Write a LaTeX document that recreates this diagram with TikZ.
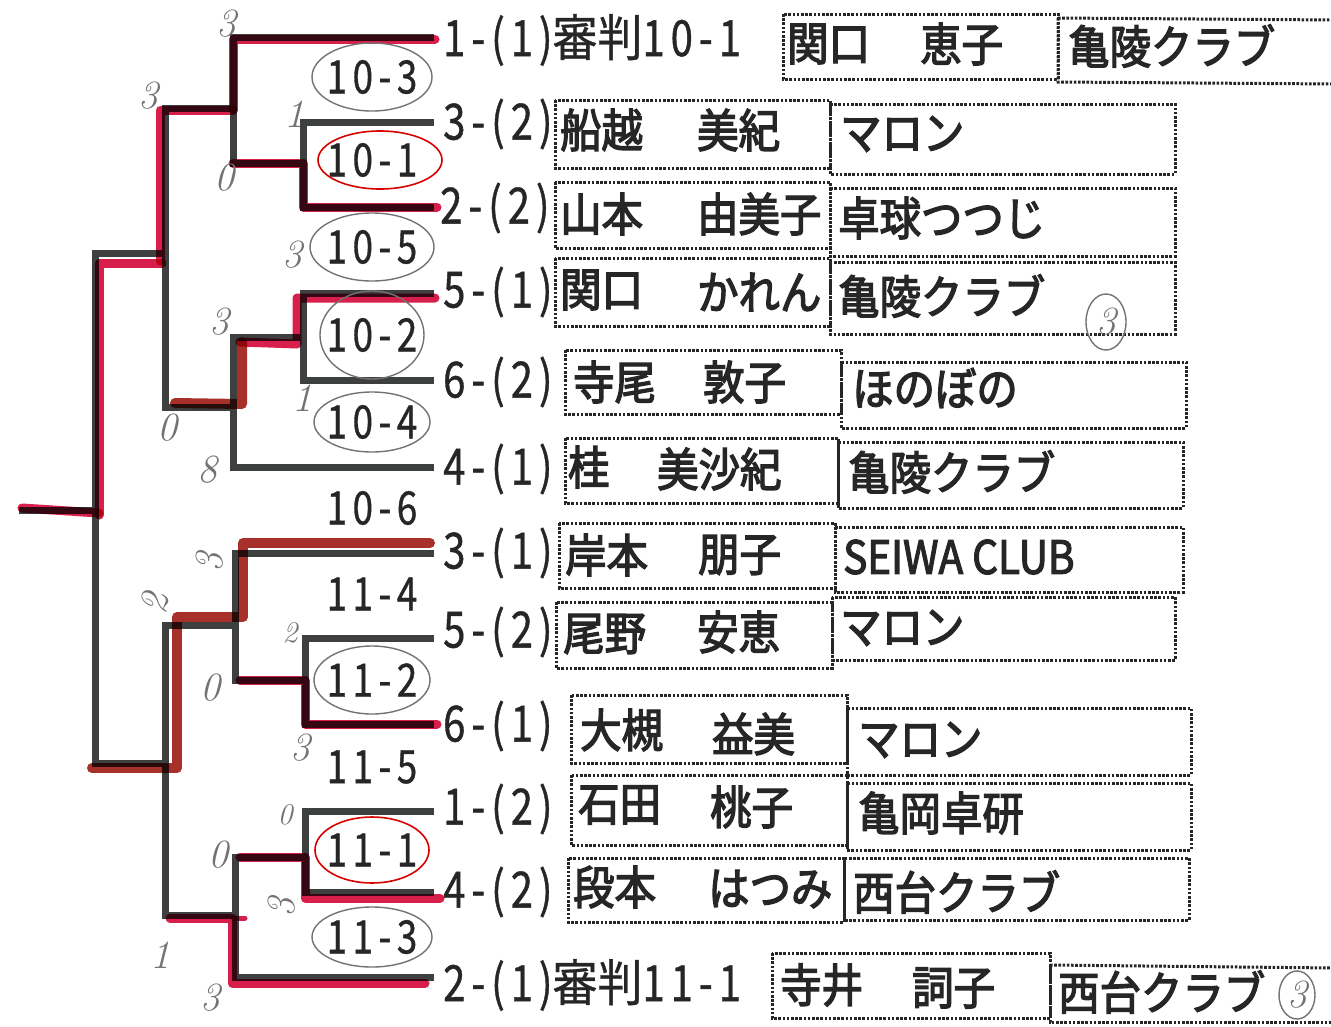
\documentclass[tikz,border=0pt]{standalone}
\usepackage{fontspec}
\newfontfamily\numf[FakeStretch=0.8,LetterSpace=12,FakeBold=0.8]{Noto Sans CJK JP}
\newfontfamily\latf[FakeStretch=0.88,FakeBold=2.4]{Noto Sans CJK JP}
\newfontfamily\jpf[FakeStretch=0.9,FakeBold=2.8]{Noto Sans CJK JP}
\newfontfamily\jpr[FakeStretch=0.9,FakeBold=0.6]{Noto Sans CJK JP}
\definecolor{brk}{HTML}{3E4040}
\definecolor{mark}{HTML}{D81E4A}
\definecolor{markd}{HTML}{A8302A}
\definecolor{ink}{HTML}{262626}
\tikzset{
  br/.style={draw=brk,line width=7pt,line join=miter,line cap=rect},
  win/.style={draw=mark,line width=9pt,line cap=round,line join=round},
  wind/.style={draw=markd,line width=10pt,line cap=round,line join=round},
  dbox/.style={draw=ink,line width=3pt,dash pattern=on 2.6pt off 1.6pt},
  lab/.style={anchor=west,inner sep=0pt,text=ink,font=\numf\fontsize{50}{50}\selectfont},
  nm/.style={anchor=west,inner sep=0pt,text=ink,font=\jpf\fontsize{46}{46}\selectfont},
  mt/.style={inner sep=0pt,text=ink,font=\numf\fontsize{46}{46}\selectfont},
  hw/.style={inner sep=0pt,text=black!55,font=\itshape\fontsize{40}{40}\selectfont},
  ov/.style={draw=black!55,line width=1.4pt},
  ovr/.style={draw=red!85!black,line width=1.6pt}
}
\begin{document}
\begin{tikzpicture}[x=1pt,y=-1pt]
\useasboundingbox (0,0) rectangle (1331,1026);
\fill[white] (0,0) rectangle (1331,1026);

% ---------- bracket coordinates ----------
\coordinate (L1) at (430,37);
\coordinate (L2) at (430,122);
\coordinate (L3) at (430,207);
\coordinate (L4) at (430,293);
\coordinate (L5) at (430,380);
\coordinate (L6) at (430,467);
\coordinate (L7) at (430,553);
\coordinate (L8) at (430,638);
\coordinate (L9) at (430,724);
\coordinate (L10) at (430,811);
\coordinate (L11) at (430,892);
\coordinate (L12) at (430,977);
\coordinate (m23) at (303,163);
\coordinate (m1) at (233,108);
\coordinate (m45) at (303,337);
\coordinate (m6) at (233,407);
\coordinate (mT) at (165,253);
\coordinate (m89) at (305,680);
\coordinate (m7) at (235,625);
\coordinate (m1011) at (305,857);
\coordinate (m12) at (235,915);
\coordinate (mB) at (165,763);
\coordinate (mF) at (95,510);
\coordinate (st) at (22,510);

% ---------- bracket ----------
\draw[br] (L2) -| (m23) |- (L3);
\draw[br] (L1) -| (m1) |- (m23);
\draw[br] (L4) -| (m45) |- (L5);
\draw[br] (m45) -| (m6) |- (L6);
\draw[br] (m1) -| (mT) |- (m6);
\draw[br] (L8) -| (m89) |- (L9);
\draw[br] (L7) -| (m7) |- (m89);
\draw[br] (L10) -| (m1011) |- (L11);
\draw[br] (m1011) -| (m12) |- (L12);
\draw[br] (m7) -| (mB) |- (m12);
\draw[br] (mT) -| (mF) |- (mB);
\draw[br] (mF) -- (st);

% ---------- winner marks ----------
\begin{scope}[blend mode=multiply]
  \draw[win] ([xshift=5pt,yshift=-2pt]L1) -| ([yshift=-2pt]m1);
  \draw[win] ([yshift=-2pt]m1) -| ([xshift=-5pt,yshift=-8pt]mT);
  \draw[win] ([xshift=-3pt,yshift=-10pt]mT) -| ([xshift=4pt,yshift=-5pt]mF);
  \draw[win] ([xshift=4pt,yshift=-3pt]mF) -- ([yshift=2pt]st);
  \draw[win] ([xshift=7pt]L3) -| (m23) -- (m1 |- m23);
  \draw[win] ([xshift=5pt,yshift=-5pt]L4) -| ([xshift=-6pt,yshift=-7pt]m45) -- ([xshift=7pt,yshift=-5pt]m6 |- m45);
  \draw[wind] ([xshift=9pt,yshift=-5pt]m6 |- m45) -- ([xshift=9pt,yshift=3pt]m6) -- ([xshift=10pt,yshift=4pt]mT |- m6);
  \draw[wind] ([yshift=10pt]L7) -| ([xshift=8pt,yshift=8pt]m7) -| ([xshift=12pt,yshift=-5pt]mB) -- ([xshift=-3pt,yshift=-5pt]mF |- mB);
  \draw[win] ([xshift=7pt]L9) -| (m89) -- ([xshift=5pt]m7 |- m89);
  \draw[win] ([xshift=10pt,yshift=-6pt]L11) -| (m1011) -- ([xshift=5pt]m12 |- m1011);
  \draw[win] ([xshift=-5pt,yshift=-6pt]L12) -| ([xshift=-3pt,yshift=-3pt]m12) -- ([xshift=5pt,yshift=-3pt]mB |- m12);
  \draw[win,line width=5pt] ([xshift=10pt,yshift=-3pt]m12) -- ([xshift=-2pt,yshift=-3pt]m12);
\end{scope}

% ---------- match labels ----------
\node[mt] (t103) at (372,77) {10-3};
\node[mt] (t101) at (372,160) {10-1};
\node[mt] (t105) at (372,247) {10-5};
\node[mt] (t102) at (372,335) {10-2};
\node[mt] (t104) at (372,422) {10-4};
\node[mt] (t106) at (372,508) {10-6};
\node[mt] (t114) at (372,594) {11-4};
\node[mt] (t112) at (372,680) {11-2};
\node[mt] (t115) at (372,767) {11-5};
\node[mt] (t111) at (372,850) {11-1};
\node[mt] (t113) at (372,937) {11-3};
\draw[ov] (t103.center) ellipse [x radius=60,y radius=34];
\draw[ovr] ([xshift=8pt]t101.center) ellipse [x radius=62,y radius=29];
\draw[ov] (t105.center) ellipse [x radius=62,y radius=34];
\draw[ov] (t102.center) ellipse [x radius=52,y radius=44];
\draw[ov] (t104.center) ellipse [x radius=58,y radius=30];
\draw[ov] (t112.center) ellipse [x radius=58,y radius=34];
\draw[ovr] (t111.center) ellipse [x radius=57,y radius=33];
\draw[ov] (t113.center) ellipse [x radius=60,y radius=30];

% ---------- handwritten scores ----------
\node[hw] (s1) at (226,24) {3};
\node[hw] (s2) at (148,96) {3};
\node[hw] (s3) at (294,114) {1};
\node[hw] (s4) at (224,178) {0};
\node[hw] (s5) at (292,255) {3};
\node[hw] (s6) at (219,322) {3};
\node[hw] (s7) at (302,398) {1};
\node[hw] (s8) at (167,428) {0};
\node[hw] (s9) at (207,470) {8};
\node[hw,rotate=90] (s10) at (210,562) {3};
\node[hw,rotate=80] (s11) at (155,603) {2};
\node[hw,font=\itshape\fontsize{30}{30}\selectfont] (s12) at (290,633) {2};
\node[hw] (s13) at (210,688) {0};
\node[hw] (s14) at (300,748) {3};
\node[hw,font=\itshape\fontsize{30}{30}\selectfont] (s15) at (285,815) {0};
\node[hw] (s16) at (218,855) {0};
\node[hw,rotate=90] (s17) at (282,907) {3};
\node[hw] (s18) at (160,955) {1};
\node[hw] (s19) at (210,998) {3};

% ---------- entry boxes ----------
\draw[dbox] (783,14) rectangle (1058,79);
\draw[dbox] (1058,18) -- (1058,82) -- (1335,84);
\draw[dbox] (1058,18) -- (1335,20);
\draw[dbox] (555,100) rectangle (830,168);
\draw[dbox] (830,104) rectangle (1175,174);
\draw[dbox] (555,182) rectangle (830,248);
\draw[dbox] (830,188) rectangle (1175,256);
\draw[dbox] (555,258) rectangle (830,326);
\draw[dbox] (830,262) rectangle (1175,334);
\draw[dbox] (565,350) rectangle (841,414);
\draw[dbox] (841,362) rectangle (1186,428);
\draw[dbox] (565,438) rectangle (838,503);
\draw[dbox] (838,442) rectangle (1183,508);
\draw[dbox] (559,523) rectangle (835,588);
\draw[dbox] (835,527) rectangle (1183,592);
\draw[dbox] (556,602) rectangle (832,668);
\draw[dbox] (832,597) rectangle (1175,660);
\draw[dbox] (571,695) rectangle (847,763);
\draw[dbox] (847,708) rectangle (1191,775);
\draw[dbox] (571,775) rectangle (847,845);
\draw[dbox] (847,783) rectangle (1191,850);
\draw[dbox] (568,858) rectangle (844,922);
\draw[dbox] (844,858) rectangle (1189,920);
\draw[dbox] (772,953) rectangle (1050,1018);
\draw[dbox] (1050,965) -- (1050,1022) -- (1335,1022);
\draw[dbox] (1050,965) -- (1335,968);

% ---------- entry texts ----------
\node[lab] (a1) at (443,40) {1-(1){\jpr 審判}10-1};
\node[nm] (f1) at (787,44) {関口};
\node[nm] (g1) at (920,44) {恵子};
\node[nm] (c1) at (1068,46) {亀陵クラブ};

\node[lab] (a2) at (443,124) {3-(2)};
\node[nm] (f2) at (560,130) {船越};
\node[nm] (g2) at (697,130) {美紀};
\node[nm] (c2) at (840,134) {マロン};

\node[lab] (a3) at (440,208) {2-(2)};
\node[nm] (f3) at (560,214) {山本};
\node[nm] (g3) at (697,214) {由美子};
\node[nm] (c3) at (838,218) {卓球つつじ};

\node[lab] (a4) at (443,292) {5-(1)};
\node[nm] (f4) at (560,290) {関口};
\node[nm] (g4) at (697,292) {かれん};
\node[nm] (c4) at (838,296) {亀陵クラブ};

\node[lab] (a5) at (443,382) {6-(2)};
\node[nm] (f5) at (573,382) {寺尾};
\node[nm] (g5) at (703,382) {敦子};
\node[nm] (c5) at (852,388) {ほのぼの};

\node[lab] (a6) at (443,469) {4-(1)};
\node[nm] (f6) at (568,467) {桂};
\node[nm] (g6) at (657,469) {美沙紀};
\node[nm] (c6) at (848,472) {亀陵クラブ};

\node[lab] (a7) at (443,553) {3-(1)};
\node[nm] (f7) at (565,555) {岸本};
\node[nm] (g7) at (698,555) {朋子};
\node[nm,font=\latf\fontsize{46}{46}\selectfont] (c7) at (843,557) {SEIWA CLUB};

\node[lab] (a8) at (443,632) {5-(2)};
\node[nm] (f8) at (563,634) {尾野};
\node[nm] (g8) at (697,632) {安恵};
\node[nm] (c8) at (840,628) {マロン};

\node[lab] (a9) at (443,726) {6-(1)};
\node[nm] (f9) at (580,730) {大槻};
\node[nm] (g9) at (712,734) {益美};
\node[nm] (c9) at (858,740) {マロン};

\node[lab] (a10) at (443,809) {1-(2)};
\node[nm] (f10) at (578,805) {石田};
\node[nm] (g10) at (710,807) {桃子};
\node[nm] (c10) at (858,813) {亀岡卓研};

\node[lab] (a11) at (443,892) {4-(2)};
\node[nm] (f11) at (573,887) {段本};
\node[nm] (g11) at (708,889) {はつみ};
\node[nm] (c11) at (853,892) {西台クラブ};

\node[lab] (a12) at (443,985) {2-(1){\jpr 審判}11-1};
\node[nm] (f12) at (780,985) {寺井};
\node[nm] (g12) at (912,988) {詞子};
\node[nm] (c12) at (1058,992) {西台クラブ};

% ---------- circled marks ----------
\node[hw] (k1) at (1106,322) {3};
\draw[ov] (k1.center) ellipse [x radius=20,y radius=28];
\node[hw] (k2) at (1297,995) {3};
\draw[ov] (k2.center) ellipse [x radius=18,y radius=24];
\end{tikzpicture}
\end{document}
